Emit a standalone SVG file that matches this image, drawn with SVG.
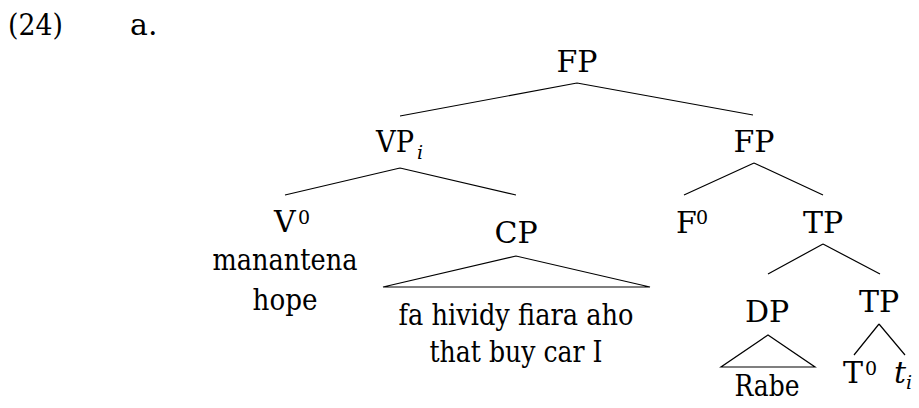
<svg xmlns="http://www.w3.org/2000/svg" width="919" height="408" viewBox="0 0 919 408">
<style>
text{font-family:"DejaVu Serif","Liberation Serif",serif;font-size:30px;fill:#000}
.m{text-anchor:middle}
.sup{font-size:19px}
.sub{font-size:19px;font-style:italic}
.it{font-style:italic}
.e{stroke:#000;stroke-width:1.2;fill:none}
</style>
<rect width="919" height="408" fill="#fff"/>
<g id="label">
<text x="8" y="35" textLength="55" lengthAdjust="spacingAndGlyphs">(24)</text>
<text x="130" y="35">a.</text>
</g>
<g id="connectors">
<path class="e" d="M577,83 L400,116 M577,83 L753,115"/>
<path class="e" d="M400,168 L285,195 M400,168 L516,195"/>
<path class="e" d="M754,163 L684,195 M754,163 L823,195"/>
<path class="e" d="M516,256 L383,287 L650,287 Z"/>
<path class="e" d="M823,244 L768,274 M823,244 L880,274"/>
<path class="e" d="M768,335 L721,367 L815,367 Z"/>
<path class="e" d="M879,324 L854,355 M879,324 L905,355"/>
</g>
<g id="n-FP-root"><text class="m" x="577" y="72">FP</text></g>
<g id="n-VP"><text x="376" y="152" textLength="38" lengthAdjust="spacingAndGlyphs">VP</text><text class="sub" x="417" y="159">i</text></g>
<g id="n-FP"><text class="m" x="754" y="152">FP</text></g>
<g id="n-V0"><text x="274" y="232">V</text><text class="sup" x="298" y="224">0</text></g>
<g id="n-manantena"><text class="m" x="285" y="270" textLength="145" lengthAdjust="spacingAndGlyphs">manantena</text><text class="m" x="285" y="310" textLength="65" lengthAdjust="spacingAndGlyphs">hope</text></g>
<g id="n-CP"><text class="m" x="516" y="243">CP</text></g>
<g id="n-CP-text"><text class="m" x="516" y="325" textLength="235" lengthAdjust="spacingAndGlyphs">fa hividy fiara aho</text><text class="m" x="516" y="362" textLength="173" lengthAdjust="spacingAndGlyphs">that buy car I</text></g>
<g id="n-F0"><text x="676" y="233">F</text><text class="sup" x="696" y="224">0</text></g>
<g id="n-TP"><text class="m" x="823" y="233">TP</text></g>
<g id="n-DP"><text class="m" x="767" y="322">DP</text></g>
<g id="n-Rabe"><text class="m" x="767" y="396" textLength="65" lengthAdjust="spacingAndGlyphs">Rabe</text></g>
<g id="n-TP2"><text class="m" x="879" y="312">TP</text></g>
<g id="n-T0"><text x="843" y="383">T</text><text class="sup" x="865" y="375">0</text></g>
<g id="n-ti"><text class="it" x="894" y="383">t</text><text class="sub" x="906" y="389">i</text></g>
</svg>
